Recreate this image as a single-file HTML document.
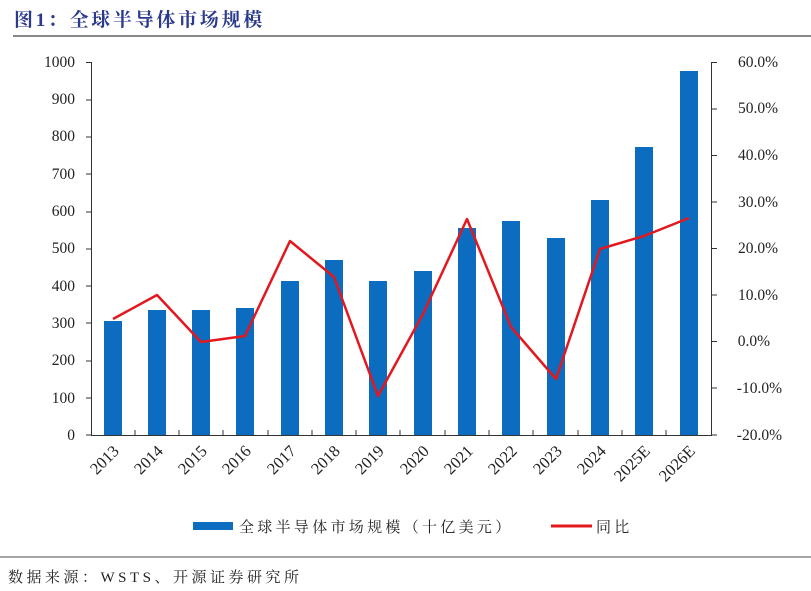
<!DOCTYPE html>
<html><head><meta charset="utf-8"><style>
body{margin:0;background:#fff;}
svg{display:block;}
</style></head><body>
<svg width="811" height="591" xmlns="http://www.w3.org/2000/svg" font-family="'Liberation Serif','Noto Serif CJK SC',serif">
<text x="14" y="26" font-size="19" font-weight="bold" fill="#2b3a8c" letter-spacing="2.7">图1：全球半导体市场规模</text>
<line x1="13" y1="36" x2="811" y2="36" stroke="#888" stroke-width="2"/>
<g font-size="15.5" fill="#222" text-anchor="end">
<text x="75" y="440">0</text><text x="75" y="403">100</text><text x="75" y="365">200</text><text x="75" y="328">300</text><text x="75" y="291">400</text><text x="75" y="253">500</text><text x="75" y="216">600</text><text x="75" y="179">700</text><text x="75" y="141">800</text><text x="75" y="104">900</text><text x="75" y="67">1000</text>
</g>
<g font-size="15.5" fill="#222" text-anchor="end">
<text x="778" y="67">60.0%</text><text x="778" y="113">50.0%</text><text x="778" y="160">40.0%</text><text x="778" y="207">30.0%</text><text x="778" y="253">20.0%</text><text x="778" y="300">10.0%</text><text x="770" y="346">0.0%</text><text x="782" y="393">-10.0%</text><text x="782" y="440">-20.0%</text>
</g>
<g stroke="#333" stroke-width="1">
<line x1="91.5" y1="62" x2="91.5" y2="435"/><line x1="711.5" y1="62" x2="711.5" y2="435"/>
<line x1="91" y1="435.5" x2="712" y2="435.5"/>
<path d="M86 62.5H91M86 100H91M86 137H91M86 174H91M86 212H91M86 249H91M86 286H91M86 323H91M86 361H91M86 398H91M86 435H91"/>
<path d="M712 62.5H717M712 109H717M712 155.5H717M712 202H717M712 248.5H717M712 295H717M712 341.5H717M712 388H717M712 435H717"/>
<path d="M135 435V430M179 435V430M223 435V430M268 435V430M312 435V430M356 435V430M400 435V430M445 435V430M489 435V430M533 435V430M578 435V430M622 435V430M666 435V430"/>
</g>
<g fill="#0b6cc0">
<rect x="104" y="321" width="18" height="114"/>
<rect x="148" y="310" width="18" height="125"/>
<rect x="192" y="310" width="18" height="125"/>
<rect x="236" y="308" width="18" height="127"/>
<rect x="281" y="281" width="18" height="154"/>
<rect x="325" y="260" width="18" height="175"/>
<rect x="369" y="281" width="18" height="154"/>
<rect x="414" y="271" width="18" height="164"/>
<rect x="458" y="228" width="18" height="207"/>
<rect x="502" y="221" width="18" height="214"/>
<rect x="547" y="238" width="18" height="197"/>
<rect x="591" y="200" width="18" height="235"/>
<rect x="635" y="147" width="18" height="288"/>
<rect x="680" y="71" width="18" height="364"/>
</g>
<polyline fill="none" stroke="#e3181f" stroke-width="2.5" stroke-linejoin="round" points="113,319 157,295 201,342 245,336 290,241 334,277 378,396 423,314 467,219 511,327 556,379 600,249 644,236 689,218"/>
<g font-size="16.5" fill="#222" text-anchor="end">
<text transform="translate(120,452) rotate(-45)">2013</text>
<text transform="translate(164,452) rotate(-45)">2014</text>
<text transform="translate(208,452) rotate(-45)">2015</text>
<text transform="translate(252,452) rotate(-45)">2016</text>
<text transform="translate(297,452) rotate(-45)">2017</text>
<text transform="translate(341,452) rotate(-45)">2018</text>
<text transform="translate(385,452) rotate(-45)">2019</text>
<text transform="translate(430,452) rotate(-45)">2020</text>
<text transform="translate(474,452) rotate(-45)">2021</text>
<text transform="translate(518,452) rotate(-45)">2022</text>
<text transform="translate(563,452) rotate(-45)">2023</text>
<text transform="translate(607,452) rotate(-45)">2024</text>
<text transform="translate(651,452) rotate(-45)">2025E</text>
<text transform="translate(696,452) rotate(-45)">2026E</text>
</g>
<rect x="193" y="522" width="40" height="8" fill="#0b6cc0"/>
<text x="239" y="532" font-size="15" fill="#222" letter-spacing="3.3">全球半导体市场规模（十亿美元）</text>
<line x1="551" y1="526" x2="592" y2="526" stroke="#e3181f" stroke-width="3"/>
<text x="596" y="532" font-size="15" fill="#222" letter-spacing="3.3">同比</text>
<line x1="0" y1="557" x2="811" y2="557" stroke="#888" stroke-width="1.5"/>
<text x="8" y="582" font-size="15" fill="#222" letter-spacing="3.5">数据来源：WSTS、开源证券研究所</text>
</svg>
</body></html>
